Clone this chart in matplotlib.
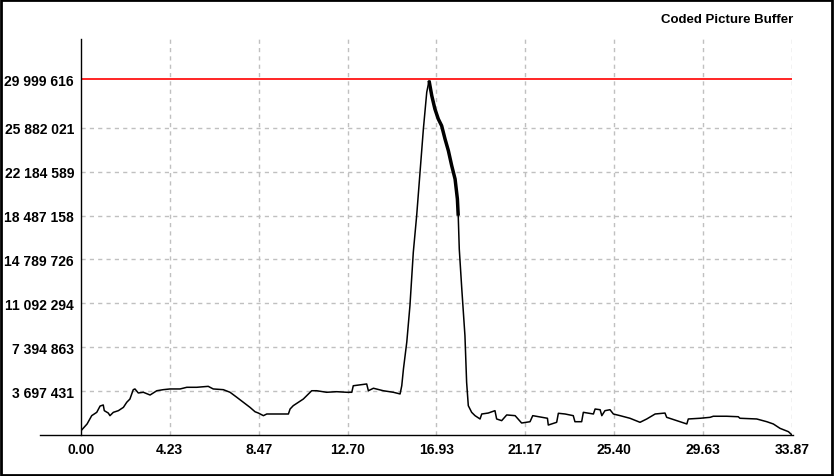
import matplotlib
matplotlib.use("Agg")
import matplotlib.pyplot as plt
from matplotlib.lines import Line2D
from matplotlib.patches import Rectangle

# time (s) and buffer level (bits)
t = [0.00, 0.29, 0.51, 0.75, 0.91, 1.06, 1.11, 1.30, 1.38, 1.54, 1.78, 2.02,
     2.18, 2.33, 2.49, 2.57, 2.73, 2.97, 3.29, 3.61, 3.92, 4.24, 4.72, 5.04,
     5.51, 6.06, 6.30, 6.78, 7.10, 7.42, 7.73, 8.05, 8.29, 8.45, 8.69, 8.85,
     9.32, 9.88, 9.96, 10.11, 10.59, 10.99, 11.23, 11.70, 12.18, 12.66, 12.90,
     12.97, 13.61, 13.69, 13.93, 14.40, 14.88, 15.20, 15.28, 15.36, 15.52,
     15.67, 15.83, 15.99, 16.15, 16.31, 16.47, 16.58,
     16.71, 16.86, 17.02, 17.18, 17.34, 17.50, 17.66, 17.82, 17.93, 17.97,
     18.02, 18.14, 18.29, 18.37, 18.45, 18.61, 18.77, 19.01, 19.09, 19.40,
     19.72, 19.80, 20.04, 20.28, 20.68, 20.99, 21.39, 21.52, 21.95, 22.22,
     22.26, 22.66, 22.74, 23.06, 23.45, 23.53, 23.85, 23.93, 24.41, 24.49,
     24.73, 24.81, 24.96, 25.20, 25.36, 25.68, 26.15, 26.63, 26.95, 27.35,
     27.82, 27.90, 28.38, 28.86, 28.93, 29.49, 29.97, 30.12, 30.76, 31.31,
     31.39, 32.19, 32.67, 32.98, 33.30, 33.70, 33.87]
level_m = [0.36, 0.93, 1.63, 1.91, 2.44, 2.53, 2.05, 1.85, 1.63, 1.91, 2.05, 2.33,
           2.76, 3.03, 3.82, 3.88, 3.54, 3.60, 3.37, 3.73, 3.82, 3.88, 3.88, 4.02,
           4.02, 4.10, 3.88, 3.82, 3.60, 3.18, 2.76, 2.33, 1.96, 1.85, 1.63, 1.77,
           1.77, 1.77, 2.19, 2.47, 3.03, 3.73, 3.73, 3.60, 3.65, 3.60, 3.60,
           4.15, 4.30, 3.73, 3.94, 3.73, 3.60, 3.46, 4.15, 5.56, 7.84,
           10.90, 15.40, 18.48, 22.14, 25.79, 28.88, 29.86,
           28.59, 27.47, 26.63, 26.06, 24.95, 23.96, 22.69, 21.57, 19.89, 18.48,
           15.67, 12.30, 8.37, 4.44, 2.47, 1.91, 1.63, 1.35, 1.77, 1.85,
           2.05, 1.35, 1.21, 1.69, 1.63, 1.01, 1.12, 1.63, 1.49, 1.41,
           0.84, 1.07, 1.83, 1.77, 1.63, 1.12, 1.12, 1.91, 1.77, 2.19,
           2.13, 1.63, 2.05, 2.13, 1.77, 1.63, 1.41, 1.07, 1.35, 1.77,
           1.85, 1.49, 1.21, 0.93, 1.35, 1.41, 1.49, 1.58, 1.58, 1.54,
           1.41, 1.35, 1.12, 0.93, 0.56, 0.28, 0.00]
level = [v * 1e6 for v in level_m]

buffer_size = 29999616
x_ticks = [0.00, 4.23, 8.47, 12.70, 16.93, 21.17, 25.40, 29.63, 33.87]
y_ticks = [3697431, 7394863, 11092294, 14789726, 18487158, 22184589, 25882021, buffer_size]
title = "Coded Picture Buffer"

W, H = 834, 477
fig = plt.figure(figsize=(W / 100, H / 100), dpi=100)
fig.patch.set_facecolor("white")
fig.patches.append(Rectangle((0.001, 0.002), 0.997, 0.995, transform=fig.transFigure,
                             fill=False, edgecolor="black", linewidth=2))

left, right, bottom, top = 81, 792, 436, 40
ax = fig.add_axes([left / W, 1 - bottom / H, (right - left) / W, (bottom - top) / H])
ax.set_xlim(0, 33.87)
ax.set_ylim(0, buffer_size * 396 / 356)

for s in ["top", "right", "bottom"]:
    ax.spines[s].set_visible(False)
ax.spines["left"].set_linewidth(1)

# x axis line runs a bit past the y axis on the left
ax.add_line(Line2D([-41 / (right - left), 1.002], [0, 0], transform=ax.transAxes,
                   color="black", linewidth=1, clip_on=False))

# grid
for xv in x_ticks[1:]:
    ax.axvline(xv, color="#c0c0c0", linestyle=(0, (3, 3)), linewidth=1, zorder=1)
for yv in y_ticks[:-1]:
    ax.axhline(yv, color="#c0c0c0", linestyle=(0, (3, 3)), linewidth=1, zorder=1)
ax.axhline(buffer_size, color="red", linewidth=1.2, zorder=2)

ax.plot(t, level, color="black", linewidth=1.1, zorder=3)
# thick part on the way down after the peak
i0, i1 = t.index(16.58), t.index(17.97)
ax.plot(t[i0:i1 + 1], level[i0:i1 + 1], color="black", linewidth=2.5,
        solid_capstyle="butt", zorder=3)

ax.set_xticks(x_ticks)
ax.set_xticklabels([f"{v:.2f}" for v in x_ticks])
ax.set_yticks(y_ticks)
ax.set_yticklabels([f"{v:,}".replace(",", " ") for v in y_ticks])
ax.tick_params(length=0, labelsize=10)
ax.tick_params(axis="y", pad=5)
ax.tick_params(axis="x", pad=5)
for lab in ax.get_xticklabels() + ax.get_yticklabels():
    lab.set_fontweight("bold")
    lab.set_family("Liberation Sans")

fig.text(793 / W, 1 - 20 / H, title, ha="right", va="center", fontsize=9.5,
         fontweight="bold", family="Liberation Sans")

fig.savefig("out.png", dpi=100)
